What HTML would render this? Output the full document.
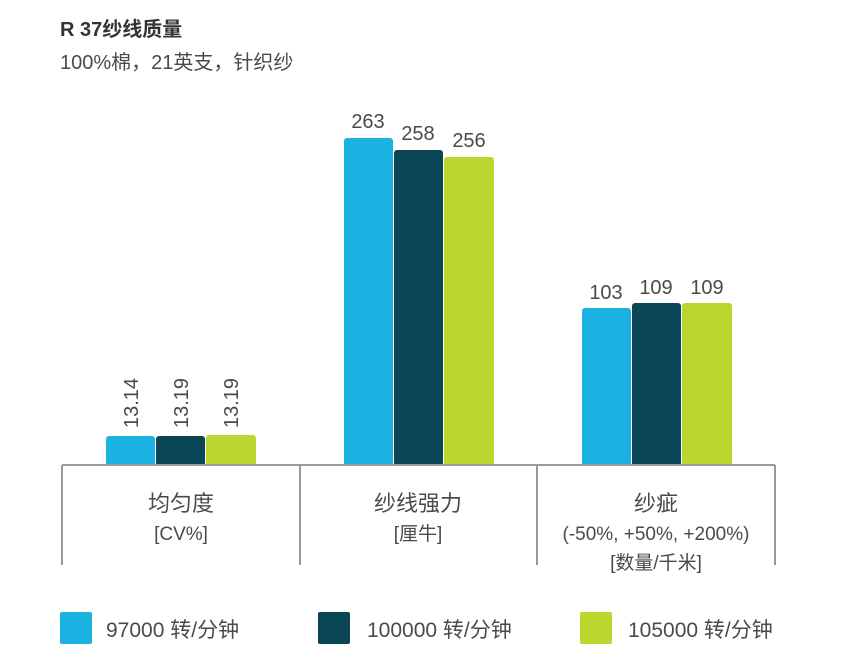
<!DOCTYPE html>
<html><head><meta charset="utf-8"><style>
body{margin:0;background:#fff;width:845px;height:660px;overflow:hidden}
svg text{font-family:"Liberation Sans","Noto Sans CJK SC",sans-serif;fill:#4a4a4a}
</style></head><body>
<svg width="845" height="660" xmlns="http://www.w3.org/2000/svg">
<text x="60" y="36" font-size="20" font-weight="bold" style="fill:#333">R 37纱线质量</text>
<text x="60" y="69" font-size="20">100%棉，21英支，针织纱</text>
<g>
<rect x="106" y="436" width="49" height="30" rx="3" fill="#1bb1e1"/>
<rect x="156" y="436" width="49" height="30" rx="3" fill="#0b4656"/>
<rect x="206" y="435" width="50" height="31" rx="3" fill="#bcd630"/>
<rect x="344" y="138" width="49" height="328" rx="3" fill="#1bb1e1"/>
<rect x="394" y="150" width="49" height="316" rx="3" fill="#0b4656"/>
<rect x="444" y="157" width="50" height="309" rx="3" fill="#bcd630"/>
<rect x="582" y="308" width="49" height="158" rx="3" fill="#1bb1e1"/>
<rect x="632" y="303" width="49" height="163" rx="3" fill="#0b4656"/>
<rect x="682" y="303" width="50" height="163" rx="3" fill="#bcd630"/>
</g>
<g stroke="#999" stroke-width="2" fill="none">
<line x1="62" y1="465" x2="775" y2="465"/>
<line x1="62" y1="465" x2="62" y2="565"/>
<line x1="300" y1="465" x2="300" y2="565"/>
<line x1="537" y1="465" x2="537" y2="565"/>
<line x1="775" y1="465" x2="775" y2="565"/>
</g>
<g font-size="20" text-anchor="middle">
<text x="368" y="128">263</text><text x="418" y="140">258</text><text x="469" y="147">256</text>
<text x="606" y="299">103</text><text x="656" y="294">109</text><text x="707" y="294">109</text>
</g>
<g font-size="20">
<text transform="translate(138,428) rotate(-90)">13.14</text>
<text transform="translate(188,428) rotate(-90)">13.19</text>
<text transform="translate(238,428) rotate(-90)">13.19</text>
</g>
<g text-anchor="middle" font-size="19">
<text x="181" y="511" font-size="22">均匀度</text>
<text x="181" y="540">[CV%]</text>
<text x="418" y="511" font-size="22">纱线强力</text>
<text x="418" y="540">[厘牛]</text>
<text x="656" y="511" font-size="22">纱疵</text>
<text x="656" y="540">(-50%, +50%, +200%)</text>
<text x="656" y="569">[数量/千米]</text>
</g>
<rect x="60" y="612" width="32" height="32" rx="2" fill="#1bb1e1"/>
<rect x="318" y="612" width="32" height="32" rx="2" fill="#0b4656"/>
<rect x="580" y="612" width="32" height="32" rx="2" fill="#bcd630"/>
<g font-size="21">
<text x="106" y="637">97000 转/分钟</text>
<text x="367" y="637">100000 转/分钟</text>
<text x="628" y="637">105000 转/分钟</text>
</g>
</svg>
</body></html>
